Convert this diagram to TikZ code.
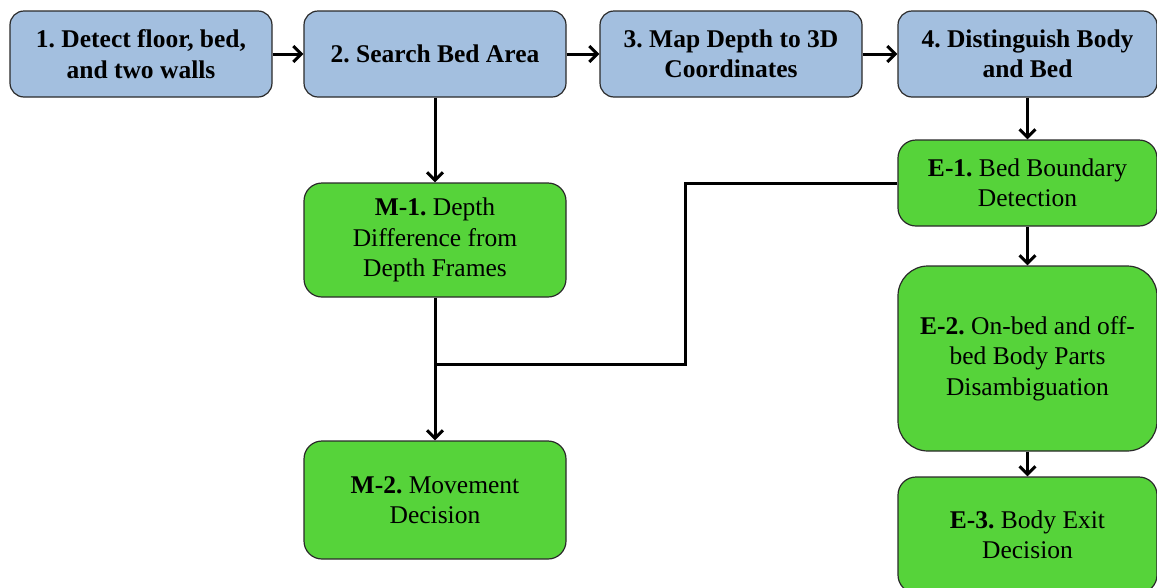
\documentclass[tikz,border=0pt]{standalone}
\usepackage{fontspec}
\setmainfont{LiberationSerif}[Extension=.ttf, UprightFont=*-Regular, BoldFont=*-Bold, ItalicFont=*-Italic, BoldItalicFont=*-BoldItalic]
\usetikzlibrary{arrows.meta}
\definecolor{stepblue}{HTML}{A3BFDF}
\definecolor{stagegreen}{HTML}{56D33A}
\definecolor{edgegray}{HTML}{2A2A2A}

\begin{document}
\begin{tikzpicture}[x=1pt, y=-1pt,
  >={Straight Barb[length=8pt, width=16pt]},
  stepbox/.style={rectangle, rounded corners=14pt, minimum width=262pt, minimum height=86pt, inner sep=0pt, text centered, align=center, draw=edgegray, line width=1.2pt, fill=stepblue, font=\fontsize{25.5}{30.5}\selectfont\frenchspacing\bfseries},
  stagebox/.style={rectangle, rounded corners=18pt, minimum width=262pt, inner sep=0pt, text centered, align=center, draw=edgegray, line width=1.2pt, fill=stagegreen, font=\fontsize{25.5}{30.5}\selectfont\frenchspacing},
  link/.style={line width=3pt, black}]
\useasboundingbox (0,0) rectangle (1157,587);

% Top row - main steps
\node[stepbox] (detect) at (141,54) {1. Detect floor, bed,\\and two walls};
\node[stepbox] (search) at (435,54) {2. Search Bed Area};
\node[stepbox] (map) at (731,54) {3. Map Depth to 3D\\Coordinates};
\node[stepbox, minimum width=259pt] (distinguish) at (1027.5,54) {4. Distinguish Body\\and Bed};

% Movement branch
\node[stagebox, minimum height=114pt] (m1) at (435,240) {\textbf{M-1.} Depth\\Difference from\\Depth Frames};
\node[stagebox, minimum height=118pt] (m2) at (435,500) {\textbf{M-2.} Movement\\Decision};

% Exit branch
\node[stagebox, minimum width=259pt, minimum height=86pt] (e1) at (1027.5,183) {\textbf{E-1.} Bed Boundary\\Detection};
\node[stagebox, minimum width=259pt, minimum height=185pt, rounded corners=30pt] (e2) at (1027.5,358.5) {\textbf{E-2.} On-bed and off-\\bed Body Parts\\Disambiguation};
\node[stagebox, minimum width=259pt, minimum height=116pt] (e3) at (1027.5,535) {\textbf{E-3.} Body Exit\\Decision};

% Bend points of the joining line
\coordinate (bend) at (685,364);
\coordinate (join) at (435,364);

% Draw connections
\draw[link, ->] (detect) -- (search);
\draw[link, ->] (search) -- (map);
\draw[link, ->] (map) -- (distinguish);
\draw[link, ->] (search) -- (m1);
\draw[link, ->] (m1) -- (m2);
\draw[link, ->] (distinguish) -- (e1);
\draw[link, ->] (e1) -- (e2);
\draw[link, ->] (e2) -- (e3);
\draw[link] (e1.west) -| (bend) -- (join);

\end{tikzpicture}
\end{document}
